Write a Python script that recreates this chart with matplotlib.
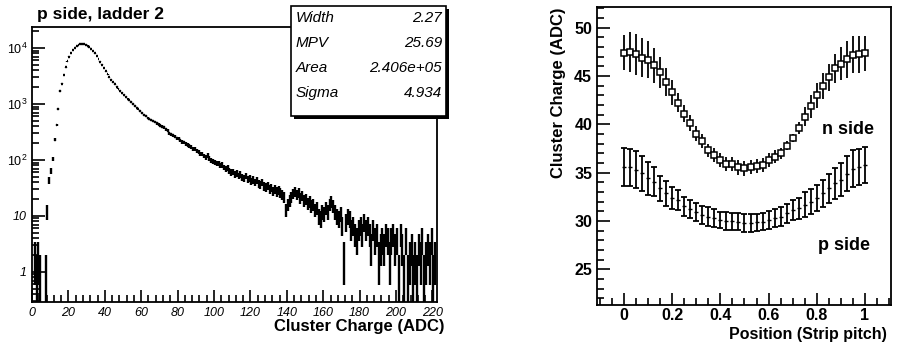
import numpy as np
import matplotlib.pyplot as plt
from matplotlib.ticker import MultipleLocator, FixedLocator, LogLocator, NullFormatter
from matplotlib.patches import Rectangle

plt.rcParams['font.family'] = ['Liberation Sans', 'DejaVu Sans']
plt.rcParams['mathtext.fontset'] = 'custom'
plt.rcParams['mathtext.it'] = 'Liberation Sans:italic'
plt.rcParams['mathtext.rm'] = 'Liberation Sans'

# left panel: cluster charge histogram, bins of 1 ADC starting at 0
hist_counts = [
    0, 2, 1, 2, 1, 0, 0, 1, 12, 43,
    64, 104, 230, 420, 810, 1700, 2300, 3300, 4500, 5800,
    7000, 8200, 9200, 10000, 10700, 11200, 11600, 11800, 11800, 11500,
    11000, 10300, 9600, 8800, 8000, 7200, 6400, 5700, 5000, 4400,
    3850, 3400, 3000, 2700, 2450, 2250, 2050, 1880, 1720, 1580,
    1460, 1350, 1250, 1160, 1080, 1000, 930, 860, 800, 740,
    680, 630, 600, 570, 545, 520, 495, 470, 450, 430,
    410, 395, 380, 350, 335, 300, 290, 275, 262, 245,
    240, 226, 210, 205, 195, 185, 178, 172, 160, 155,
    145, 140, 128, 130, 118, 112, 120, 105, 100, 96,
    92, 88, 86, 80, 82, 74, 70, 72, 65, 60,
    62, 55, 58, 52, 56, 50, 48, 52, 45, 47,
    42, 44, 40, 43, 38, 36, 40, 34, 33, 35,
    30, 32, 28, 30, 27, 29, 26, 24, 22, 13,
    16, 19, 22, 25, 27, 24, 26, 21, 23, 19,
    20, 17, 18, 15, 16, 13, 14, 10, 9, 12,
    11, 14, 12, 16, 18, 15, 12, 10, 9, 11,
    7, 2, 8, 10, 9, 6, 7, 5, 4, 6,
    7, 5, 8, 6, 7, 5, 3, 6, 4, 5,
    2, 3, 4, 3, 5, 4, 2, 4, 5, 3,
    4, 1, 5, 3, 1, 4, 1, 2, 3, 1,
    2, 1, 3, 2, 4, 1, 2, 3, 2, 4,
    1, 2,
]
stat_names = ['Width', 'MPV', 'Area', 'Sigma']
stat_values = ['2.27', '25.69', '2.406e+05', '4.934']

# right panel: mean cluster charge vs position inside the strip pitch
position = [i / 40 for i in range(41)]
n_side = [47.4, 47.5, 47.25, 46.9, 46.7, 46.1, 45.4, 44.4, 43.3, 42.25,
          41.1, 40.15, 39.05, 38.3, 37.3, 36.85, 36.3, 35.9, 35.9, 35.55,
          35.45, 35.6, 35.7, 35.8, 36.3, 36.65, 37.0, 37.8, 38.6, 39.65,
          40.8, 41.85, 43.0, 43.95, 44.9, 45.8, 46.3, 46.75, 47.2, 47.25, 47.35]
n_err = [1.8, 2.1, 2.1, 2.0, 1.9, 1.8, 1.6, 1.45, 1.3, 1.0,
         0.9, 0.8, 0.75, 0.7, 0.7, 0.7, 0.75, 0.75, 0.75, 0.75,
         0.75, 0.75, 0.75, 0.7, 0.7, 0.65, 0.6, 0.45, 0.4, 0.6,
         1.0, 1.2, 1.3, 1.35, 1.4, 1.5, 1.7, 1.9, 1.9, 1.9, 1.8]
p_side = [35.6, 35.55, 35.3, 34.95, 34.4, 34.05, 33.4, 32.85, 32.4, 32.15,
          31.5, 31.25, 30.95, 30.6, 30.45, 30.3, 30.1, 30.0, 29.95, 29.93,
          29.8, 29.8, 29.85, 29.93, 30.1, 30.3, 30.45, 30.8, 31.15, 31.3,
          31.7, 32.0, 32.4, 32.85, 33.4, 33.9, 34.25, 34.9, 35.4, 35.6, 35.8]
p_err = [1.95, 1.9, 1.9, 1.8, 1.7, 1.5, 1.3, 1.3, 1.15, 1.05,
         0.95, 0.95, 0.95, 0.9, 0.95, 0.9, 0.85, 0.9, 0.85, 0.9,
         0.9, 0.9, 0.9, 0.9, 0.9, 0.9, 0.95, 1.0, 1.05, 1.1,
         1.3, 1.3, 1.35, 1.4, 1.5, 1.6, 1.7, 1.8, 1.9, 1.9, 1.9]

W, H = 901, 345
fig = plt.figure(figsize=(W / 100, H / 100), dpi=100)
fig.patch.set_facecolor('white')


def fx(px):
    return px / W


def fy(py):
    return 1 - py / H


# ---- left panel ----
ax1 = fig.add_axes([fx(32), fy(302), fx(437 - 32), (302 - 27) / H])
counts = np.array(hist_counts, dtype=float)
centers = np.arange(len(counts)) + 0.5
m = counts > 0
c = counts[m]
up = np.sqrt(c)
lo = np.minimum(up, c - 0.01)
ax1.errorbar(centers[m], c, xerr=0.5, yerr=[lo, up], fmt='none',
             ecolor='black', elinewidth=1.7)
ax1.set_yscale('log')
ax1.set_xlim(0, 222.5)
ax1.set_ylim(0.29, 23700)
ax1.xaxis.set_major_locator(MultipleLocator(20))
ax1.xaxis.set_minor_locator(MultipleLocator(4))
ax1.yaxis.set_major_locator(FixedLocator([1, 10, 100, 1000, 10000]))
ax1.yaxis.set_minor_locator(LogLocator(base=10, subs=np.arange(2, 10)))
ax1.yaxis.set_minor_formatter(NullFormatter())
ax1.set_yticklabels(['1', '10', r'$\mathit{10^{2}}$', r'$\mathit{10^{3}}$', r'$\mathit{10^{4}}$'])
ax1.tick_params(which='both', direction='in', top=False, right=False,
                labelsize=9, width=1.2)
ax1.tick_params(which='major', length=9)
ax1.tick_params(which='minor', length=5)
for lab in ax1.get_xticklabels() + ax1.get_yticklabels():
    lab.set_fontstyle('italic')
for s in ax1.spines.values():
    s.set_linewidth(1.3)

fig.text(fx(37), fy(14), 'p side, ladder 2', fontsize=12.5, fontweight='bold',
         va='center', ha='left')
fig.text(fx(445), fy(326), 'Cluster Charge (ADC)', fontsize=12,
         fontweight='bold', va='center', ha='right')

# stats box with shadow
bx0, by0, bx1, by1 = 291, 6, 446, 116
fig.add_artist(Rectangle((fx(bx0 + 3), fy(by1 + 3)), fx(bx1 - bx0), (by1 - by0) / H,
                         transform=fig.transFigure, facecolor='black',
                         edgecolor='black', lw=0))
fig.add_artist(Rectangle((fx(bx0), fy(by1)), fx(bx1 - bx0), (by1 - by0) / H,
                         transform=fig.transFigure, facecolor='white',
                         edgecolor='black', lw=1.2))
row_y = [18, 43, 68, 93]
for name, val, ry in zip(stat_names, stat_values, row_y):
    fig.text(fx(296), fy(ry), name, fontsize=11, style='italic', va='center', ha='left')
    fig.text(fx(442), fy(ry), val, fontsize=11, style='italic', va='center', ha='right')

# ---- right panel ----
ax2 = fig.add_axes([fx(597), fy(305), fx(891 - 597), (305 - 7) / H])
ax2.errorbar(position, n_side, yerr=n_err, fmt='s', ms=5, mfc='white',
             mec='black', mew=1.1, ecolor='black', elinewidth=1.3, capsize=0)
ax2.errorbar(position, p_side, yerr=p_err, fmt='_', ms=3, mec='black',
             ecolor='black', elinewidth=1.3, capsize=2.5, capthick=1.3)
ax2.set_xlim(-0.112, 1.108)
ax2.set_ylim(21.3, 52.15)
ax2.xaxis.set_major_locator(MultipleLocator(0.2))
ax2.xaxis.set_minor_locator(MultipleLocator(0.05))
ax2.yaxis.set_major_locator(MultipleLocator(5))
ax2.yaxis.set_minor_locator(MultipleLocator(1))
ax2.set_xticks([0, 0.2, 0.4, 0.6, 0.8, 1.0])
ax2.set_xticklabels(['0', '0.2', '0.4', '0.6', '0.8', '1'])
ax2.tick_params(which='both', direction='in', top=False, right=False,
                labelsize=11.5, width=1.2)
ax2.tick_params(axis='x', pad=2)
ax2.tick_params(which='major', length=9)
ax2.tick_params(which='minor', length=5)
for lab in ax2.get_xticklabels() + ax2.get_yticklabels():
    lab.set_fontweight('bold')
for s in ax2.spines.values():
    s.set_linewidth(1.3)

ax2.text(0.82, 39.5, 'n side', fontsize=13, fontweight='bold', va='center', ha='left')
ax2.text(0.805, 27.5, 'p side', fontsize=13, fontweight='bold', va='center', ha='left')

fig.text(fx(887), fy(335), 'Position (Strip pitch)', fontsize=11.5,
         fontweight='bold', va='center', ha='right')
fig.text(fx(558), fy(7), 'Cluster Charge (ADC)', fontsize=12, fontweight='bold',
         rotation=90, va='top', ha='center')

fig.savefig('out.png', dpi=100)
